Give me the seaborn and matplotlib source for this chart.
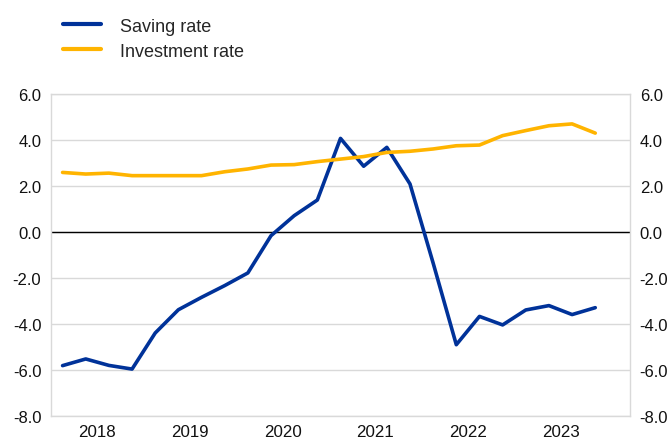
import matplotlib
matplotlib.use("Agg")
import matplotlib.pyplot as plt
import seaborn as sns
import pandas as pd
import numpy as np
from matplotlib.lines import Line2D

quarters = [f"{y}Q{q}" for y in range(2018, 2024) for q in range(1, 5)]
saving_rate = [-5.81, -5.52, -5.80, -5.96, -4.39, -3.38, -2.84, -2.33, -1.78, -0.16,
               0.71, 1.39, 4.07, 2.86, 3.68, 2.09, -1.35, -4.90, -3.67, -4.04,
               -3.39, -3.20, -3.59, -3.29]
investment_rate = [2.59, 2.52, 2.56, 2.45, 2.45, 2.45, 2.45, 2.62, 2.74, 2.91,
                   2.93, 3.06, 3.17, 3.28, 3.46, 3.51, 3.61, 3.75, 3.78, 4.19,
                   4.41, 4.62, 4.70, 4.30]
year_labels = ["2018", "2019", "2020", "2021", "2022", "2023"]
series_names = ["Saving rate", "Investment rate"]
colors = ["#003299", "#FFB400"]

sns.set_theme(style="white")
plt.rcParams['font.family'] = ['Liberation Sans', 'DejaVu Sans']

idx = np.arange(len(quarters))
df = pd.DataFrame({
    "idx": np.concatenate([idx, idx]),
    "value": saving_rate + investment_rate,
    "series": [series_names[0]] * len(quarters) + [series_names[1]] * len(quarters),
})

fig = plt.figure(figsize=(6.69, 4.39), dpi=100)
ax = fig.add_axes([51/669, 22/439, 579/669, 322/439])

sns.lineplot(data=df, x="idx", y="value", hue="series", palette=colors,
             hue_order=series_names, linewidth=2.6, ax=ax, legend=False)

ax.set_xlim(-0.5, len(quarters) + 0.5)
ax.set_ylim(-8, 6)
ax.set_yticks(np.arange(-8, 7, 2))
ax.set_yticklabels([f"{v:.1f}" for v in np.arange(-8, 7, 2)])
ax.yaxis.grid(True, color="#d9d9d9", linewidth=1)
ax.set_axisbelow(True)
ax.axhline(0, color="black", linewidth=1, zorder=1.5)

# x ticks: minor quarterly tick marks, year labels centred
ax.set_xticks(np.arange(-0.5, len(quarters), 1), minor=True)
ax.set_xticks([1.5 + 4 * i for i in range(len(year_labels))])
ax.set_xticklabels(year_labels)
ax.tick_params(axis="x", which="major", length=0, pad=6, labelsize=12.2, colors="#111111")
ax.tick_params(axis="x", which="minor", length=5, width=1, color="#d0d0d0", direction="out")
ax.tick_params(axis="y", which="both", length=0, labelsize=12, labelleft=True,
               labelright=True, pad=7, colors="#111111")
ax.set_xlabel("")
ax.set_ylabel("")

for s in ["left", "right", "bottom", "top"]:
    ax.spines[s].set_visible(True)
    ax.spines[s].set_color("#d9d9d9")
    ax.spines[s].set_linewidth(1)

# legend
handles = [Line2D([0], [0], color=c, linewidth=3) for c in colors]
fig.legend(handles, series_names, loc="upper left", bbox_to_anchor=(63/669, 1 - 18.5/439),
           frameon=False, fontsize=13, handlelength=2.1, handletextpad=1.05,
           labelspacing=0.45, borderaxespad=0, borderpad=0)

fig.savefig("out.png", dpi=100)
